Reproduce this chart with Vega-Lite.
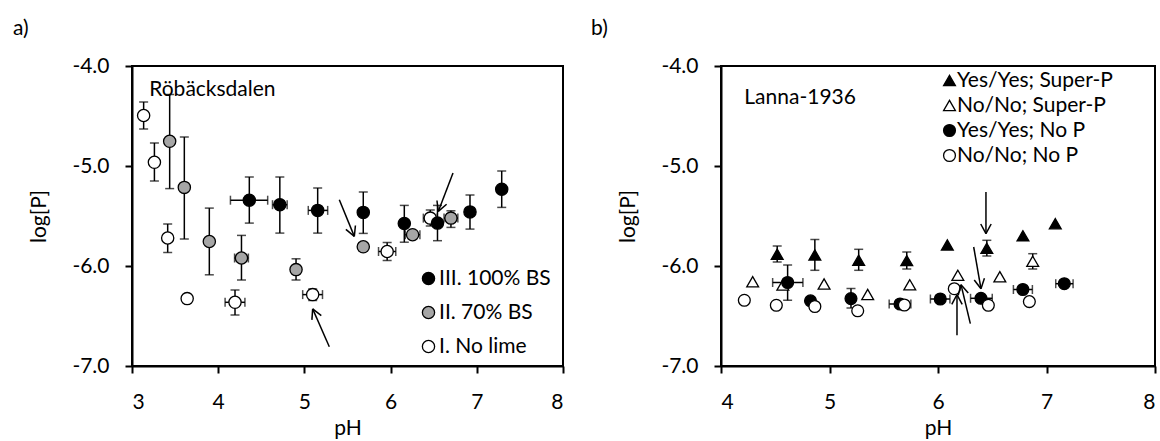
{
  "$schema": "https://vega.github.io/schema/vega-lite/v6.json",
  "padding": {"left": 12, "top": 17, "right": 2, "bottom": 2},
  "background": "white",
  "datasets": {
    "points": [
      {"panel": "a", "series": "I. No lime", "pH": 3.135, "logP": -4.495, "ylo": -4.63, "yhi": -4.36, "xlo": null, "xhi": null},
      {"panel": "a", "series": "I. No lime", "pH": 3.26, "logP": -4.963, "ylo": -5.15, "yhi": -4.77, "xlo": null, "xhi": null},
      {"panel": "a", "series": "I. No lime", "pH": 3.414, "logP": -5.72, "ylo": -5.865, "yhi": -5.58, "xlo": null, "xhi": null},
      {"panel": "a", "series": "I. No lime", "pH": 3.64, "logP": -6.326, "ylo": null, "yhi": null, "xlo": null, "xhi": null},
      {"panel": "a", "series": "I. No lime", "pH": 4.195, "logP": -6.363, "ylo": -6.49, "yhi": -6.24, "xlo": 4.08, "xhi": 4.31},
      {"panel": "a", "series": "I. No lime", "pH": 5.096, "logP": -6.286, "ylo": -6.345, "yhi": -6.23, "xlo": 4.98, "xhi": 5.21},
      {"panel": "a", "series": "I. No lime", "pH": 5.96, "logP": -5.855, "ylo": -5.945, "yhi": -5.765, "xlo": 5.86, "xhi": 6.06},
      {"panel": "a", "series": "I. No lime", "pH": 6.46, "logP": -5.521, "ylo": -5.6, "yhi": -5.44, "xlo": 6.38, "xhi": 6.54},
      {"panel": "a", "series": "II. 70% BS", "pH": 3.437, "logP": -4.753, "ylo": -5.226, "yhi": -4.285, "xlo": null, "xhi": null},
      {"panel": "a", "series": "II. 70% BS", "pH": 3.607, "logP": -5.214, "ylo": -5.73, "yhi": -4.71, "xlo": null, "xhi": null},
      {"panel": "a", "series": "II. 70% BS", "pH": 3.897, "logP": -5.755, "ylo": -6.088, "yhi": -5.421, "xlo": null, "xhi": null},
      {"panel": "a", "series": "II. 70% BS", "pH": 4.27, "logP": -5.92, "ylo": -6.14, "yhi": -5.694, "xlo": 4.19, "xhi": 4.35},
      {"panel": "a", "series": "II. 70% BS", "pH": 4.903, "logP": -6.036, "ylo": -6.14, "yhi": -5.928, "xlo": null, "xhi": null},
      {"panel": "a", "series": "II. 70% BS", "pH": 5.683, "logP": -5.808, "ylo": -5.84, "yhi": -5.78, "xlo": 5.63, "xhi": 5.73},
      {"panel": "a", "series": "II. 70% BS", "pH": 6.255, "logP": -5.687, "ylo": null, "yhi": null, "xlo": 6.17, "xhi": 6.34},
      {"panel": "a", "series": "II. 70% BS", "pH": 6.7, "logP": -5.521, "ylo": -5.614, "yhi": -5.448, "xlo": 6.62, "xhi": 6.78},
      {"panel": "a", "series": "III. 100% BS", "pH": 4.361, "logP": -5.342, "ylo": -5.571, "yhi": -5.11, "xlo": 4.142, "xhi": 4.574},
      {"panel": "a", "series": "III. 100% BS", "pH": 4.715, "logP": -5.387, "ylo": -5.671, "yhi": -5.11, "xlo": 4.63, "xhi": 4.8},
      {"panel": "a", "series": "III. 100% BS", "pH": 5.154, "logP": -5.444, "ylo": -5.671, "yhi": -5.22, "xlo": 5.045, "xhi": 5.27},
      {"panel": "a", "series": "III. 100% BS", "pH": 5.683, "logP": -5.464, "ylo": -5.674, "yhi": -5.26, "xlo": null, "xhi": null},
      {"panel": "a", "series": "III. 100% BS", "pH": 6.159, "logP": -5.575, "ylo": -5.762, "yhi": -5.394, "xlo": null, "xhi": null},
      {"panel": "a", "series": "III. 100% BS", "pH": 6.544, "logP": -5.571, "ylo": -5.747, "yhi": -5.394, "xlo": null, "xhi": null},
      {"panel": "a", "series": "III. 100% BS", "pH": 6.921, "logP": -5.459, "ylo": -5.631, "yhi": -5.29, "xlo": null, "xhi": null},
      {"panel": "a", "series": "III. 100% BS", "pH": 7.289, "logP": -5.233, "ylo": -5.414, "yhi": -5.05, "xlo": null, "xhi": null},
      {"panel": "b", "series": "Yes/Yes; Super-P", "pH": 4.518, "logP": -5.882, "ylo": -5.96, "yhi": -5.8, "xlo": null, "xhi": null},
      {"panel": "b", "series": "Yes/Yes; Super-P", "pH": 4.865, "logP": -5.89, "ylo": -6.043, "yhi": -5.735, "xlo": null, "xhi": null},
      {"panel": "b", "series": "Yes/Yes; Super-P", "pH": 5.269, "logP": -5.943, "ylo": -6.043, "yhi": -5.833, "xlo": null, "xhi": null},
      {"panel": "b", "series": "Yes/Yes; Super-P", "pH": 5.712, "logP": -5.946, "ylo": -6.03, "yhi": -5.86, "xlo": null, "xhi": null},
      {"panel": "b", "series": "Yes/Yes; Super-P", "pH": 6.086, "logP": -5.79, "ylo": null, "yhi": null, "xlo": null, "xhi": null},
      {"panel": "b", "series": "Yes/Yes; Super-P", "pH": 6.45, "logP": -5.823, "ylo": -5.9, "yhi": -5.743, "xlo": null, "xhi": null},
      {"panel": "b", "series": "Yes/Yes; Super-P", "pH": 6.783, "logP": -5.698, "ylo": null, "yhi": null, "xlo": null, "xhi": null},
      {"panel": "b", "series": "Yes/Yes; Super-P", "pH": 7.081, "logP": -5.577, "ylo": null, "yhi": null, "xlo": null, "xhi": null},
      {"panel": "b", "series": "No/No; Super-P", "pH": 4.292, "logP": -6.157, "ylo": null, "yhi": null, "xlo": null, "xhi": null},
      {"panel": "b", "series": "No/No; Super-P", "pH": 4.57, "logP": -6.19, "ylo": null, "yhi": null, "xlo": null, "xhi": null},
      {"panel": "b", "series": "No/No; Super-P", "pH": 4.95, "logP": -6.18, "ylo": null, "yhi": null, "xlo": null, "xhi": null},
      {"panel": "b", "series": "No/No; Super-P", "pH": 5.352, "logP": -6.285, "ylo": null, "yhi": null, "xlo": null, "xhi": null},
      {"panel": "b", "series": "No/No; Super-P", "pH": 5.74, "logP": -6.188, "ylo": null, "yhi": null, "xlo": null, "xhi": null},
      {"panel": "b", "series": "No/No; Super-P", "pH": 6.183, "logP": -6.093, "ylo": null, "yhi": null, "xlo": null, "xhi": null},
      {"panel": "b", "series": "No/No; Super-P", "pH": 6.57, "logP": -6.107, "ylo": null, "yhi": null, "xlo": null, "xhi": null},
      {"panel": "b", "series": "No/No; Super-P", "pH": 6.873, "logP": -5.953, "ylo": -6.03, "yhi": -5.877, "xlo": null, "xhi": null},
      {"panel": "b", "series": "Yes/Yes; No P", "pH": 4.614, "logP": -6.165, "ylo": -6.343, "yhi": -5.99, "xlo": 4.476, "xhi": 4.755},
      {"panel": "b", "series": "Yes/Yes; No P", "pH": 4.825, "logP": -6.348, "ylo": null, "yhi": null, "xlo": null, "xhi": null},
      {"panel": "b", "series": "Yes/Yes; No P", "pH": 5.198, "logP": -6.326, "ylo": -6.42, "yhi": -6.225, "xlo": null, "xhi": null},
      {"panel": "b", "series": "Yes/Yes; No P", "pH": 5.65, "logP": -6.38, "ylo": null, "yhi": null, "xlo": 5.55, "xhi": 5.75},
      {"panel": "b", "series": "Yes/Yes; No P", "pH": 6.021, "logP": -6.33, "ylo": null, "yhi": null, "xlo": 5.93, "xhi": 6.11},
      {"panel": "b", "series": "Yes/Yes; No P", "pH": 6.396, "logP": -6.323, "ylo": null, "yhi": null, "xlo": 6.3, "xhi": 6.5},
      {"panel": "b", "series": "Yes/Yes; No P", "pH": 6.782, "logP": -6.235, "ylo": null, "yhi": null, "xlo": 6.695, "xhi": 6.87},
      {"panel": "b", "series": "Yes/Yes; No P", "pH": 7.164, "logP": -6.177, "ylo": null, "yhi": null, "xlo": 7.085, "xhi": 7.245},
      {"panel": "b", "series": "No/No; No P", "pH": 4.215, "logP": -6.343, "ylo": null, "yhi": null, "xlo": null, "xhi": null},
      {"panel": "b", "series": "No/No; No P", "pH": 4.51, "logP": -6.393, "ylo": null, "yhi": null, "xlo": null, "xhi": null},
      {"panel": "b", "series": "No/No; No P", "pH": 4.865, "logP": -6.405, "ylo": null, "yhi": null, "xlo": null, "xhi": null},
      {"panel": "b", "series": "No/No; No P", "pH": 5.26, "logP": -6.448, "ylo": null, "yhi": null, "xlo": null, "xhi": null},
      {"panel": "b", "series": "No/No; No P", "pH": 5.69, "logP": -6.39, "ylo": null, "yhi": null, "xlo": null, "xhi": null},
      {"panel": "b", "series": "No/No; No P", "pH": 6.15, "logP": -6.227, "ylo": null, "yhi": null, "xlo": null, "xhi": null},
      {"panel": "b", "series": "No/No; No P", "pH": 6.464, "logP": -6.393, "ylo": null, "yhi": null, "xlo": null, "xhi": null},
      {"panel": "b", "series": "No/No; No P", "pH": 6.842, "logP": -6.356, "ylo": null, "yhi": null, "xlo": null, "xhi": null}
    ],
    "arrows": [
      {"panel": "a", "pH": 5.405, "logP": -5.337, "pH2": 5.579, "logP2": -5.704},
      {"panel": "a", "pH": 5.579, "logP": -5.704, "pH2": 5.592, "logP2": -5.595},
      {"panel": "a", "pH": 5.579, "logP": -5.704, "pH2": 5.481, "logP2": -5.634},
      {"panel": "a", "pH": 6.724, "logP": -5.07, "pH2": 6.553, "logP2": -5.454},
      {"panel": "a", "pH": 6.553, "logP": -5.454, "pH2": 6.65, "logP2": -5.382},
      {"panel": "a", "pH": 6.553, "logP": -5.454, "pH2": 6.538, "logP2": -5.345},
      {"panel": "a", "pH": 5.289, "logP": -6.807, "pH2": 5.096, "logP2": -6.429},
      {"panel": "a", "pH": 5.096, "logP": -6.429, "pH2": 5.087, "logP2": -6.539},
      {"panel": "a", "pH": 5.096, "logP": -6.429, "pH2": 5.196, "logP2": -6.497},
      {"panel": "b", "pH": 6.442, "logP": -5.26, "pH2": 6.442, "logP2": -5.677},
      {"panel": "b", "pH": 6.442, "logP": -5.677, "pH2": 6.49, "logP2": -5.58},
      {"panel": "b", "pH": 6.442, "logP": -5.677, "pH2": 6.394, "logP2": -5.58},
      {"panel": "b", "pH": 6.329, "logP": -5.81, "pH2": 6.396, "logP2": -6.227},
      {"panel": "b", "pH": 6.396, "logP": -6.227, "pH2": 6.428, "logP2": -6.122},
      {"panel": "b", "pH": 6.396, "logP": -6.227, "pH2": 6.334, "logP2": -6.14},
      {"panel": "b", "pH": 6.175, "logP": -6.693, "pH2": 6.175, "logP2": -6.287},
      {"panel": "b", "pH": 6.175, "logP": -6.287, "pH2": 6.127, "logP2": -6.384},
      {"panel": "b", "pH": 6.175, "logP": -6.287, "pH2": 6.223, "logP2": -6.384},
      {"panel": "b", "pH": 6.298, "logP": -6.577, "pH2": 6.212, "logP2": -6.187},
      {"panel": "b", "pH": 6.212, "logP": -6.187, "pH2": 6.186, "logP2": -6.293},
      {"panel": "b", "pH": 6.212, "logP": -6.187, "pH2": 6.279, "logP2": -6.27}
    ],
    "labels": [
      {"panel": "a", "pH": 3.2, "logP": -4.3, "text": "Röbäcksdalen"},
      {"panel": "b", "pH": 4.215, "logP": -4.377, "text": "Lanna-1936"}
    ]
  },
  "hconcat": [
    {
      "width": 431, "height": 300,
      "title": {"text": "a)", "anchor": "start", "frame": "group", "dx": -119, "offset": -1, "baseline": "alphabetic", "fontSize": 21, "fontWeight": "normal", "font": "Lato", "color": "black"},
      "layer": [
        {"data": {"name": "points"}, "transform": [{"filter": "datum.panel == 'a' && isValid(datum.ylo)"}],
         "mark": {"type": "rule", "color": "black", "strokeWidth": 1.5},
         "encoding": {
           "x": {"field": "pH", "type": "quantitative", "title": "pH", "scale": {"domain": [3, 8], "nice": false, "zero": false}, "axis": {"values": [3, 4, 5, 6, 7, 8], "format": "d"}},
           "y": {"field": "ylo", "type": "quantitative", "title": "log[P]", "scale": {"domain": [-7, -4], "nice": false, "zero": false}, "axis": {"values": [-7, -6, -5, -4], "labelExpr": "replace(format(datum.value, '.1f'), '\u2212', '-')"}},
           "y2": {"field": "yhi"}}},
        {"data": {"name": "points"}, "transform": [{"filter": "datum.panel == 'a' && isValid(datum.ylo)"}, {"fold": ["ylo", "yhi"], "as": ["cap", "capv"]}],
         "mark": {"type": "tick", "orient": "horizontal", "color": "black", "size": 9, "thickness": 1.5},
         "encoding": {
           "x": {"field": "pH", "type": "quantitative", "title": "pH"},
           "y": {"field": "capv", "type": "quantitative", "title": "log[P]"}}},
        {"data": {"name": "points"}, "transform": [{"filter": "datum.panel == 'a' && isValid(datum.xlo)"}],
         "mark": {"type": "rule", "color": "black", "strokeWidth": 1.5},
         "encoding": {
           "x": {"field": "xlo", "type": "quantitative", "title": "pH"},
           "x2": {"field": "xhi"},
           "y": {"field": "logP", "type": "quantitative", "title": "log[P]"}}},
        {"data": {"name": "points"}, "transform": [{"filter": "datum.panel == 'a' && isValid(datum.xlo)"}, {"fold": ["xlo", "xhi"], "as": ["cap", "capv"]}],
         "mark": {"type": "tick", "orient": "vertical", "color": "black", "size": 9, "thickness": 1.5},
         "encoding": {
           "x": {"field": "capv", "type": "quantitative", "title": "pH"},
           "y": {"field": "logP", "type": "quantitative", "title": "log[P]"}}},
        {"data": {"name": "points"}, "transform": [{"filter": "datum.panel == 'a'"}],
         "mark": {"type": "point", "strokeWidth": 1.3, "opacity": 1, "size": 150},
         "encoding": {
           "x": {"field": "pH", "type": "quantitative", "title": "pH"},
           "y": {"field": "logP", "type": "quantitative", "title": "log[P]"},
           "fill": {"field": "series", "type": "nominal", "scale": {"domain": ["III. 100% BS", "II. 70% BS", "I. No lime"], "range": ["black", "#a6a6a6", "white"]},
             "legend": {"orient": "none", "legendX": 286, "legendY": 202, "title": null, "labelFontSize": 21, "labelFont": "Lato", "labelColor": "black", "labelLimit": 300, "symbolSize": 150, "symbolStrokeWidth": 1.3, "rowPadding": 12, "labelOffset": 0, "padding": 0}},
           "stroke": {"field": "series", "type": "nominal", "scale": {"domain": ["III. 100% BS", "II. 70% BS", "I. No lime"], "range": ["black", "black", "black"]},
             "legend": {"orient": "none", "legendX": 286, "legendY": 202, "title": null, "labelFontSize": 21, "labelFont": "Lato", "labelColor": "black", "labelLimit": 300, "symbolSize": 150, "symbolStrokeWidth": 1.3, "rowPadding": 12, "labelOffset": 0, "padding": 0}},
           "shape": {"field": "series", "type": "nominal", "scale": {"domain": ["III. 100% BS", "II. 70% BS", "I. No lime"], "range": ["circle", "circle", "circle"]},
             "legend": {"orient": "none", "legendX": 286, "legendY": 202, "title": null, "labelFontSize": 21, "labelFont": "Lato", "labelColor": "black", "labelLimit": 300, "symbolSize": 150, "symbolStrokeWidth": 1.3, "rowPadding": 12, "labelOffset": 0, "padding": 0}}}},
        {"data": {"name": "arrows"}, "transform": [{"filter": "datum.panel == 'a'"}],
         "mark": {"type": "rule", "color": "black", "strokeWidth": 1.5},
         "encoding": {
           "x": {"field": "pH", "type": "quantitative", "title": "pH"},
           "y": {"field": "logP", "type": "quantitative", "title": "log[P]"},
           "x2": {"field": "pH2"}, "y2": {"field": "logP2"}}},
        {"data": {"name": "labels"}, "transform": [{"filter": "datum.panel == 'a'"}],
         "mark": {"type": "text", "align": "left", "baseline": "alphabetic", "fontSize": 21, "font": "Lato", "color": "black"},
         "encoding": {
           "x": {"field": "pH", "type": "quantitative", "title": "pH"},
           "y": {"field": "logP", "type": "quantitative", "title": "log[P]"},
           "text": {"field": "text"}}}
      ]
    },
    {
      "width": 434, "height": 300,
      "title": {"text": "b)", "anchor": "start", "frame": "group", "dx": -130, "offset": -1, "baseline": "alphabetic", "fontSize": 21, "fontWeight": "normal", "font": "Lato", "color": "black"},
      "layer": [
        {"data": {"name": "points"}, "transform": [{"filter": "datum.panel == 'b' && isValid(datum.ylo)"}],
         "mark": {"type": "rule", "color": "black", "strokeWidth": 1.5},
         "encoding": {
           "x": {"field": "pH", "type": "quantitative", "title": "pH", "scale": {"domain": [4, 8], "nice": false, "zero": false}, "axis": {"values": [4, 5, 6, 7, 8], "format": "d"}},
           "y": {"field": "ylo", "type": "quantitative", "title": "log[P]", "scale": {"domain": [-7, -4], "nice": false, "zero": false}, "axis": {"values": [-7, -6, -5, -4], "labelExpr": "replace(format(datum.value, '.1f'), '\u2212', '-')"}},
           "y2": {"field": "yhi"}}},
        {"data": {"name": "points"}, "transform": [{"filter": "datum.panel == 'b' && isValid(datum.ylo)"}, {"fold": ["ylo", "yhi"], "as": ["cap", "capv"]}],
         "mark": {"type": "tick", "orient": "horizontal", "color": "black", "size": 9, "thickness": 1.5},
         "encoding": {
           "x": {"field": "pH", "type": "quantitative", "title": "pH"},
           "y": {"field": "capv", "type": "quantitative", "title": "log[P]"}}},
        {"data": {"name": "points"}, "transform": [{"filter": "datum.panel == 'b' && isValid(datum.xlo)"}],
         "mark": {"type": "rule", "color": "black", "strokeWidth": 1.5},
         "encoding": {
           "x": {"field": "xlo", "type": "quantitative", "title": "pH"},
           "x2": {"field": "xhi"},
           "y": {"field": "logP", "type": "quantitative", "title": "log[P]"}}},
        {"data": {"name": "points"}, "transform": [{"filter": "datum.panel == 'b' && isValid(datum.xlo)"}, {"fold": ["xlo", "xhi"], "as": ["cap", "capv"]}],
         "mark": {"type": "tick", "orient": "vertical", "color": "black", "size": 9, "thickness": 1.5},
         "encoding": {
           "x": {"field": "capv", "type": "quantitative", "title": "pH"},
           "y": {"field": "logP", "type": "quantitative", "title": "log[P]"}}},
        {"data": {"name": "points"}, "transform": [{"filter": "datum.panel == 'b'"}],
         "mark": {"type": "point", "strokeWidth": 1.3, "opacity": 1, "size": 140},
         "encoding": {
           "x": {"field": "pH", "type": "quantitative", "title": "pH"},
           "y": {"field": "logP", "type": "quantitative", "title": "log[P]"},
           "fill": {"field": "series", "type": "nominal", "scale": {"domain": ["Yes/Yes; Super-P", "No/No; Super-P", "Yes/Yes; No P", "No/No; No P"], "range": ["black", "white", "black", "white"]},
             "legend": {"orient": "none", "legendX": 218, "legendY": 4, "title": null, "labelFontSize": 21, "labelFont": "Lato", "labelColor": "black", "labelLimit": 300, "symbolSize": 140, "symbolStrokeWidth": 1.3, "rowPadding": 3, "labelOffset": -3, "padding": 0}},
           "stroke": {"field": "series", "type": "nominal", "scale": {"domain": ["Yes/Yes; Super-P", "No/No; Super-P", "Yes/Yes; No P", "No/No; No P"], "range": ["black", "black", "black", "black"]},
             "legend": {"orient": "none", "legendX": 218, "legendY": 4, "title": null, "labelFontSize": 21, "labelFont": "Lato", "labelColor": "black", "labelLimit": 300, "symbolSize": 140, "symbolStrokeWidth": 1.3, "rowPadding": 3, "labelOffset": -3, "padding": 0}},
           "shape": {"field": "series", "type": "nominal", "scale": {"domain": ["Yes/Yes; Super-P", "No/No; Super-P", "Yes/Yes; No P", "No/No; No P"], "range": ["triangle-up", "triangle-up", "circle", "circle"]},
             "legend": {"orient": "none", "legendX": 218, "legendY": 4, "title": null, "labelFontSize": 21, "labelFont": "Lato", "labelColor": "black", "labelLimit": 300, "symbolSize": 140, "symbolStrokeWidth": 1.3, "rowPadding": 3, "labelOffset": -3, "padding": 0}}}},
        {"data": {"name": "arrows"}, "transform": [{"filter": "datum.panel == 'b'"}],
         "mark": {"type": "rule", "color": "black", "strokeWidth": 1.5},
         "encoding": {
           "x": {"field": "pH", "type": "quantitative", "title": "pH"},
           "y": {"field": "logP", "type": "quantitative", "title": "log[P]"},
           "x2": {"field": "pH2"}, "y2": {"field": "logP2"}}},
        {"data": {"name": "labels"}, "transform": [{"filter": "datum.panel == 'b'"}],
         "mark": {"type": "text", "align": "left", "baseline": "alphabetic", "fontSize": 21, "font": "Lato", "color": "black"},
         "encoding": {
           "x": {"field": "pH", "type": "quantitative", "title": "pH"},
           "y": {"field": "logP", "type": "quantitative", "title": "log[P]"},
           "text": {"field": "text"}}}
      ]
    }
  ],
  "spacing": 158,
  "bounds": "flush",
  "resolve": {
    "scale": {"x": "independent", "y": "independent", "fill": "independent", "shape": "independent", "stroke": "independent"},
    "legend": {"fill": "independent", "shape": "independent", "stroke": "independent"}
  },
  "config": {
    "font": "Lato",
    "view": {"stroke": "black", "strokeWidth": 2},
    "axis": {"grid": false, "domainColor": "black", "domainWidth": 2, "tickColor": "black", "tickWidth": 2, "tickSize": 7, "labelFontSize": 21, "labelColor": "black", "labelFont": "Lato", "labelPadding": 16, "titleFontSize": 21, "titleFontWeight": "normal", "titleColor": "black", "titleFont": "Lato"},
    "axisX": {"labelPadding": 18, "titlePadding": 5},
    "axisY": {"titlePadding": 22}
  }
}
